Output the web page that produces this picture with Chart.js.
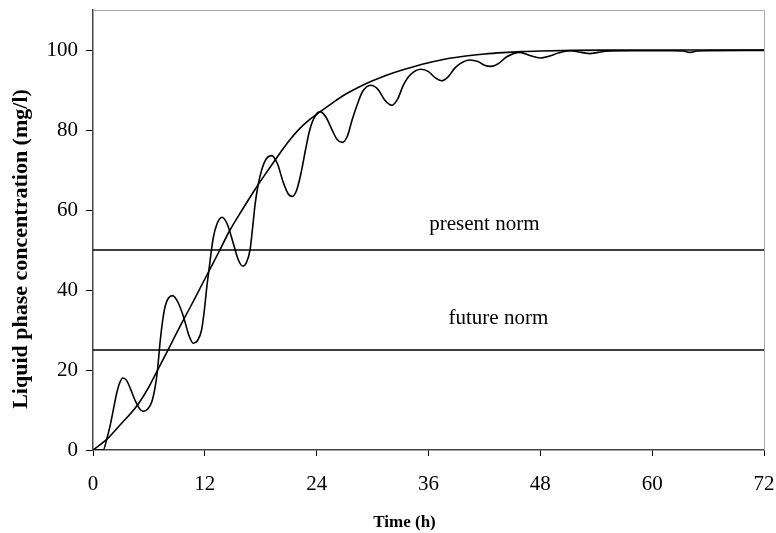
<!DOCTYPE html>
<html><head><meta charset="utf-8">
<script src="https://cdn.jsdelivr.net/npm/chart.js@4"></script>
<style>html,body{margin:0;padding:0;background:#fff}#wrap{width:776px;height:533px}</style>
</head><body><div id="wrap"><canvas id="c" width="776" height="533"></canvas></div>
<script>
// ---- data ----
const timeSmooth = [0, 1.5, 3, 4.7, 6, 7, 8, 9.2, 10.5, 11.5, 12.5, 13.5, 14.7, 16, 17.4, 18.8, 20, 21, 22.2, 23.3, 24.4, 25.6, 27, 28.5, 30, 31.5, 33, 34.5, 36, 38, 40, 42, 44, 46, 48, 51.5, 56, 60, 66, 72];
const concSmooth = [0, 2.7, 6.5, 11, 15.8, 20.3, 24.8, 30.3, 36, 40.5, 45, 49.5, 55, 60, 65.2, 70, 74, 77.2, 80.4, 82.7, 84.6, 86.6, 88.8, 90.7, 92.3, 93.7, 94.9, 95.9, 96.8, 97.8, 98.5, 99, 99.35, 99.6, 99.75, 99.9, 99.97, 100, 100, 100];

const timeWave = [0, 1.1, 1.47, 1.82, 2.2, 2.54, 2.85, 3.2, 3.6, 4.0, 4.5, 5.0, 5.4, 5.9, 6.3, 6.65, 6.9, 7.2, 7.5, 7.75, 8.1, 8.55, 9.1, 9.7, 10.3, 10.76, 11.2, 11.65, 11.95, 12.2, 12.55, 12.9, 13.3, 13.85, 14.4, 15.05, 15.6, 16.06, 16.45, 16.85, 17.1, 17.4, 17.7, 18.1, 18.6, 19.17, 19.8, 20.4, 20.9, 21.39, 21.86, 22.3, 22.8, 23.2, 23.64, 24.36, 25.0, 25.7, 26.2, 26.75, 27.3, 27.8, 28.3, 28.9, 29.8, 30.6, 31.3, 32.05, 32.7, 33.3, 34.0, 35.2, 36.0, 36.7, 37.4, 38.1, 38.8, 39.4, 40.45, 41.3, 42.0, 42.7, 43.5, 44.4, 45.8, 46.8, 48.0, 49.0, 50.0, 51.2, 52.4, 53.3, 54.2, 55.0, 58, 62, 63.3, 64.05, 64.8, 66, 72];
const concWave = [0, 0, 2.7, 5.9, 10.3, 14.2, 16.7, 18, 17.4, 15.4, 12.5, 10.3, 9.65, 10.3, 12, 15.5, 19.5, 27, 32.8, 36, 38, 38.6, 37, 33.4, 28.6, 26.7, 27.3, 30, 35, 40.5, 47, 53, 56.5, 58.2, 56.5, 51.7, 47.5, 46, 46.8, 50, 55, 61.5, 66, 70, 72.8, 73.6, 71.5, 67, 64.2, 63.4, 65, 69, 75, 79.5, 82.6, 84.6, 83.2, 79.8, 77.6, 76.9, 78.5, 82.5, 86, 89.5, 91.2, 90.1, 87.5, 86.2, 87.8, 91.2, 93.7, 95.2, 94.6, 93.1, 92.3, 93.3, 95.4, 96.6, 97.5, 97.1, 96.2, 95.9, 96.6, 98.3, 99.4, 98.7, 98, 98.5, 99.3, 99.8, 99.4, 99.1, 99.4, 99.7, 99.8, 99.8, 99.75, 99.4, 99.75, 99.85, 99.9];

const normTimes = [0, 72];
const presentNorm = 50;
const futureNorm = 25;
const presentLabel = 'present norm';
const futureLabel = 'future norm';
const presentLabelAt = [42, 56.3];
const futureLabelAt = [43.5, 32.8];

const xTickValues = [0, 12, 24, 36, 48, 60, 72];
const yTickValues = [0, 20, 40, 60, 80, 100];
const xTitle = 'Time (h)';
const yTitle = 'Liquid phase concentration (mg/l)';

// ---- chart ----
const pts = (xs, ys) => xs.map((x, i) => ({x: x, y: ys[i]}));
const SERIF = "'Liberation Serif', 'Times New Roman', serif";

const framePlugin = {
  id: 'frame',
  afterDatasetsDraw(chart) {
    const {ctx, chartArea: a, scales} = chart;
    ctx.save();
    ctx.strokeStyle = '#a8a8a8';
    ctx.lineWidth = 1;
    ctx.beginPath();
    ctx.moveTo(a.left, a.top + 0.5);
    ctx.lineTo(a.right + 0.5, a.top + 0.5);
    ctx.lineTo(a.right + 0.5, a.bottom);
    ctx.stroke();
    ctx.fillStyle = '#000';
    ctx.font = "21px " + SERIF;
    ctx.textAlign = 'center';
    ctx.textBaseline = 'middle';
    [[presentLabel, presentLabelAt], [futureLabel, futureLabelAt]].forEach(([txt, at]) => {
      ctx.fillText(txt, scales.x.getPixelForValue(at[0]), scales.y.getPixelForValue(at[1]));
    });
    // axis titles
    ctx.font = "bold 17px " + SERIF;
    ctx.fillText(xTitle, (a.left + a.right) / 2 - 24, 523);
    ctx.save();
    ctx.translate(21, 249);
    ctx.rotate(-Math.PI / 2);
    ctx.font = "bold 22px " + SERIF;
    ctx.fillText(yTitle, 0, 0);
    ctx.restore();
    ctx.restore();
  }
};

new Chart(document.getElementById('c'), {
  type: 'line',
  data: {
    datasets: [
      {data: pts(timeSmooth, concSmooth), borderColor: '#000', borderWidth: 1.6, cubicInterpolationMode: 'monotone'},
      {data: pts(timeWave, concWave), borderColor: '#000', borderWidth: 1.6, cubicInterpolationMode: 'monotone'},
      {data: pts(normTimes, [presentNorm, presentNorm]), borderColor: '#000', borderWidth: 1.3},
      {data: pts(normTimes, [futureNorm, futureNorm]), borderColor: '#000', borderWidth: 1.3}
    ]
  },
  options: {
    responsive: false,
    devicePixelRatio: 1,
    animation: false,
    layout: {padding: {left: 0, right: 12, top: 10, bottom: 0}},
    elements: {point: {radius: 0}},
    plugins: {legend: {display: false}, tooltip: {enabled: false}},
    scales: {
      x: {
        type: 'linear', min: 0, max: 72,
        afterBuildTicks: s => { s.ticks = xTickValues.map(v => ({value: v})); },
        afterFit: s => { s.height = 83; s.paddingLeft = 0; s.paddingRight = 0; },
        ticks: {color: '#000', font: {family: SERIF, size: 21}, padding: 16, maxRotation: 0, autoSkip: false},
        grid: {drawOnChartArea: false, drawTicks: true, tickLength: 6, color: '#000'},
        border: {color: '#444', width: 1.5}
      },
      y: {
        type: 'linear', min: 0, max: 110,
        afterBuildTicks: s => { s.ticks = yTickValues.map(v => ({value: v})); },
        afterFit: s => { s.width = 93; s.paddingTop = 0; s.paddingBottom = 0; },
        ticks: {color: '#000', font: {family: SERIF, size: 21}, padding: 8, autoSkip: false},
        grid: {drawOnChartArea: false, drawTicks: true, tickLength: 7, color: '#000'},
        border: {color: '#444', width: 1.5}
      }
    }
  },
  plugins: [framePlugin]
});
</script>
</body></html>
